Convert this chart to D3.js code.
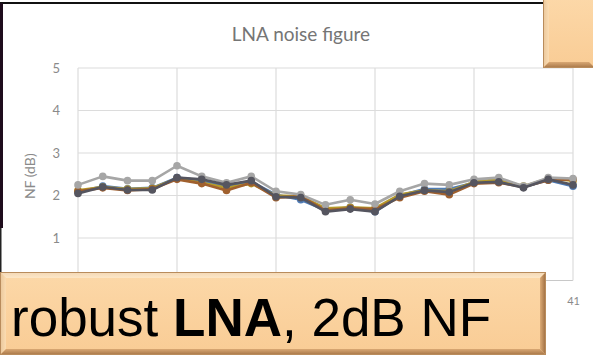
<!DOCTYPE html>
<html>
<head>
<meta charset="utf-8">
<script src="https://cdn.jsdelivr.net/npm/d3@7"></script>
<style>
  html, body { margin: 0; padding: 0; background: #fff; }
  svg { display: block; }
</style>
</head>
<body>
<svg id="chart" width="593" height="361"></svg>
<script>
// Channel numbers (odd channels 1..41) and measured noise figure per LNA sample
const channels = [1,3,5,7,9,11,13,15,17,19,21,23,25,27,29,31,33,35,37,39,41];
const xGridValues = [1, 9, 17, 25, 33, 41];
const xLabelValues = [41];           // the other category labels sit under the callout
const yTickValues = [0, 1, 2, 3, 4, 5];

const nfSampleA = [2.25,2.45,2.35,2.35,2.70,2.45,2.30,2.45,2.10,2.02,1.78,1.90,1.80,2.10,2.28,2.25,2.38,2.42,2.22,2.42,2.40];
const nfSampleB = [2.08,2.22,2.16,2.18,2.42,2.35,2.22,2.32,2.02,1.90,1.65,1.72,1.62,2.00,2.15,2.15,2.30,2.34,2.20,2.36,2.22];
const nfSampleC = [2.12,2.20,2.15,2.17,2.40,2.30,2.18,2.28,2.00,1.98,1.70,1.72,1.70,2.02,2.12,2.10,2.32,2.38,2.22,2.40,2.35];
const nfSampleD = [2.10,2.18,2.12,2.15,2.38,2.28,2.12,2.30,1.95,1.98,1.65,1.70,1.68,1.95,2.10,2.02,2.28,2.30,2.20,2.36,2.38];
const nfSampleE = [2.05,2.20,2.13,2.13,2.42,2.38,2.25,2.35,1.97,1.95,1.62,1.68,1.62,1.98,2.12,2.08,2.30,2.32,2.18,2.38,2.25];

const seriesList = [
  { values: nfSampleB, color: "#4f7bb5" },
  { values: nfSampleC, color: "#b59a2c" },
  { values: nfSampleD, color: "#a0602e" },
  { values: nfSampleA, color: "#a6a6a6" },
  { values: nfSampleE, color: "#55555f" }
];

const svg = d3.select("#chart");
const defs = svg.append("defs");
const font = "Lato, 'Open Sans', sans-serif";

// Slide frame: top rule and dark left edge
svg.append("rect").attr("x", 0).attr("y", 0).attr("width", 593).attr("height", 361).attr("fill", "#ffffff");
svg.append("rect").attr("x", 0).attr("y", 2).attr("width", 545).attr("height", 2).attr("fill", "#111111");
svg.append("rect").attr("x", 0).attr("y", 3).attr("width", 3).attr("height", 225).attr("fill", "#1e0c1c");
svg.append("rect").attr("x", 0).attr("y", 228).attr("width", 1.5).attr("height", 46).attr("fill", "#222222");

const x = d3.scaleLinear().domain([1, 41]).range([78, 573]);
const y = d3.scaleLinear().domain([0, 5]).range([280.5, 68]);

// Gridlines
svg.append("g")
  .selectAll("line")
  .data(yTickValues)
  .join("line")
  .attr("x1", x(1)).attr("x2", x(41))
  .attr("y1", d => y(d)).attr("y2", d => y(d))
  .attr("stroke", d => d === 0 ? "#c8c8c8" : "#dcdcdc")
  .attr("stroke-width", 1.2);

svg.append("g")
  .selectAll("line")
  .data(xGridValues)
  .join("line")
  .attr("x1", d => x(d)).attr("x2", d => x(d))
  .attr("y1", y(5)).attr("y2", y(0))
  .attr("stroke", "#dcdcdc")
  .attr("stroke-width", 1.2);

// Axes labels
const yAxis = d3.axisLeft(y).tickValues(yTickValues).tickSize(0).tickPadding(0).tickFormat(d3.format("d"));
const yG = svg.append("g").attr("transform", "translate(60,0)").call(yAxis);
yG.select(".domain").remove();
yG.selectAll("text").attr("font-family", font).attr("font-size", 13).attr("fill", "#8a8a8a");

const xAxis = d3.axisBottom(x).tickValues(xLabelValues).tickSize(0).tickPadding(0).tickFormat(d3.format("d"));
const xG = svg.append("g").attr("transform", `translate(0,${y(0) + 17})`).call(xAxis);
xG.select(".domain").remove();
xG.selectAll("text").attr("font-family", font).attr("font-size", 11).attr("fill", "#8a8a8a");

svg.append("text")
  .attr("transform", `translate(35,${(y(5) + y(0)) / 2 + 2}) rotate(-90)`)
  .attr("text-anchor", "middle")
  .attr("font-family", font).attr("font-size", 14).attr("fill", "#8a8a8a")
  .text("NF (dB)");

svg.append("text")
  .attr("x", 301).attr("y", 41)
  .attr("text-anchor", "middle")
  .attr("font-family", font).attr("font-size", 19).attr("fill", "#757575")
  .text("LNA noise figure");

// Series lines and markers
defs.append("filter").attr("id", "soft").append("feGaussianBlur").attr("stdDeviation", 0.6);
const line = d3.line().x((d, i) => x(channels[i])).y(d => y(d));
const plot = svg.append("g").attr("filter", "url(#soft)");

seriesList.forEach(s => {
  plot.append("path")
    .attr("d", line(s.values))
    .attr("fill", "none")
    .attr("stroke", s.color)
    .attr("stroke-width", 2.6)
    .attr("stroke-linejoin", "round");
  plot.selectAll(null)
    .data(s.values)
    .join("circle")
    .attr("cx", (d, i) => x(channels[i]))
    .attr("cy", d => y(d))
    .attr("r", 3.8)
    .attr("fill", s.color);
});

// Beveled callout boxes
function grad(id, x1, y1, x2, y2, stops) {
  const gr = defs.append("linearGradient").attr("id", id)
    .attr("x1", x1).attr("y1", y1).attr("x2", x2).attr("y2", y2);
  stops.forEach(([o, c]) => gr.append("stop").attr("offset", o).attr("stop-color", c));
}
grad("peach", 0, 0, 0, 1, [[0, "#fcd8a8"], [1, "#f9cc95"]]);
grad("bevTop", 0, 0, 0, 1, [[0, "#f3d7b4"], [1, "#fde6c6"]]);
grad("bevLeft", 0, 0, 1, 0, [[0, "#e9c69a"], [1, "#fbdcb2"]]);
grad("bevBottom", 0, 1, 0, 0, [[0, "#a57445"], [1, "#d9a874"]]);
grad("bevRight", 1, 0, 0, 0, [[0, "#9b6a3e"], [1, "#dcab76"]]);

function bevelBox(x0, y0, w, h, b, edges) {
  const g = svg.append("g");
  g.append("rect").attr("x", x0).attr("y", y0).attr("width", w).attr("height", h).attr("fill", "url(#peach)");
  const x1 = x0 + w, y1 = y0 + h;
  const poly = (pts, fill) => g.append("polygon").attr("points", pts.map(p => p.join(",")).join(" ")).attr("fill", fill);
  if (edges.top) poly([[x0, y0], [x1, y0], [x1 - b, y0 + b], [x0 + b, y0 + b]], "url(#bevTop)");
  if (edges.left) poly([[x0, y0], [x0 + b, y0 + b], [x0 + b, y1 - b], [x0, y1]], "url(#bevLeft)");
  if (edges.bottom) poly([[x0, y1], [x0 + b, y1 - b], [x1 - b, y1 - b], [x1, y1]], "url(#bevBottom)");
  if (edges.right) poly([[x1, y0], [x1, y1], [x1 - b, y1 - b], [x1 - b, y0 + b]], "url(#bevRight)");
  g.append("rect").attr("x", x0 + 0.5).attr("y", y0 + 0.5).attr("width", w - 1).attr("height", h - 1)
    .attr("fill", "none").attr("stroke", "#b98c5c").attr("stroke-width", 1);
  return g;
}

bevelBox(543, -2, 52, 70, 6, { left: true, bottom: true });

const box = bevelBox(0, 272, 546, 83, 6, { top: true, left: true, bottom: true, right: true });
const label = box.append("text")
  .attr("x", 11).attr("y", 336)
  .attr("font-family", "'Liberation Sans', Arial, sans-serif")
  .attr("font-size", 53)
  .attr("fill", "#000");
label.append("tspan").text("robust ");
label.append("tspan").attr("font-weight", "bold").text("LNA");
label.append("tspan").text(", 2dB NF");
</script>
</body>
</html>
